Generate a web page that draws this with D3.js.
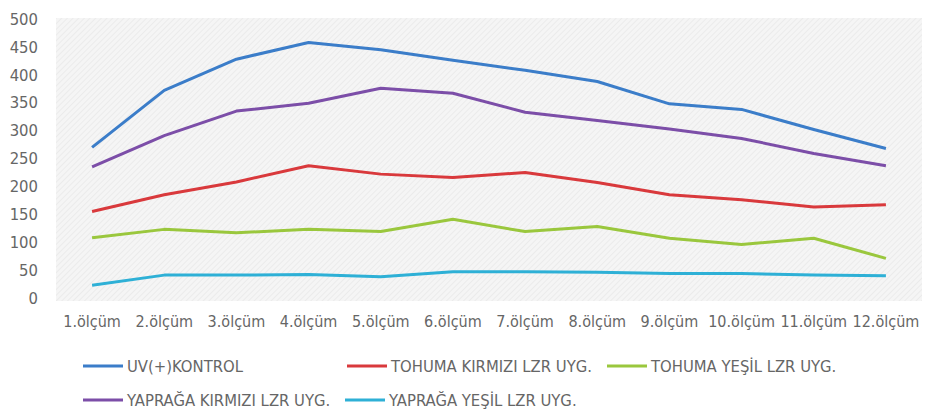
<!DOCTYPE html>
<html>
<head>
<meta charset="utf-8">
<script src="https://cdn.jsdelivr.net/npm/d3@7"></script>
<style>
  html, body { margin: 0; padding: 0; background: #fff; }
  svg { display: block; }
  .tick text { fill: #666; }
</style>
</head>
<body>
<svg id="chart" width="937" height="410"></svg>
<script>
// Measurements 1..12
const categories = ["1.ölçüm","2.ölçüm","3.ölçüm","4.ölçüm","5.ölçüm","6.ölçüm",
                    "7.ölçüm","8.ölçüm","9.ölçüm","10.ölçüm","11.ölçüm","12.ölçüm"];

const uvKontrol       = [270, 372, 428, 458, 445, 426, 408, 388, 348, 338, 302, 268];
const tohumaKirmizi   = [155, 185, 208, 237, 222, 216, 225, 207, 185, 176, 163, 167];
const tohumaYesil     = [108, 123, 117, 123, 119, 141, 119, 128, 107, 96, 107, 71];
const yapragaKirmizi  = [235, 291, 335, 349, 376, 367, 333, 318, 303, 286, 259, 237];
const yapragaYesil    = [23, 41, 41, 42, 38, 47, 47, 46, 44, 44, 41, 40];

const seriesNames = ["UV(+)KONTROL", "TOHUMA KIRMIZI LZR UYG.", "TOHUMA YEŞİL LZR UYG.",
                     "YAPRAĞA KIRMIZI LZR UYG.", "YAPRAĞA YEŞİL LZR UYG."];
const yTicks = [0, 50, 100, 150, 200, 250, 300, 350, 400, 450, 500];

const series = [
  { name: seriesNames[0], values: uvKontrol,      color: "#3b7dc9" },
  { name: seriesNames[1], values: tohumaKirmizi,  color: "#d9393c" },
  { name: seriesNames[2], values: tohumaYesil,    color: "#9ac73d" },
  { name: seriesNames[3], values: yapragaKirmizi, color: "#7c4ea8" },
  { name: seriesNames[4], values: yapragaYesil,   color: "#2eb0d6" }
];

const svg = d3.select("#chart");
const font = "'Liberation Sans Narrow', 'DejaVu Sans Condensed', 'Open Sans', sans-serif";

const plot = { left: 56, right: 922, top: 18, bottom: 301 };

const x = d3.scaleBand().domain(categories).range([plot.left, plot.right]);
const y = d3.scaleLinear().domain([0, 500]).range([298, 19]);

// hatched plot background
const defs = svg.append("defs");
const pat = defs.append("pattern")
  .attr("id", "hatch").attr("width", 4).attr("height", 4)
  .attr("patternUnits", "userSpaceOnUse")
  .attr("patternTransform", "rotate(45)");
pat.append("rect").attr("width", 4).attr("height", 4).attr("fill", "#f5f5f5");
pat.append("line").attr("x1", 0).attr("y1", 0).attr("x2", 0).attr("y2", 4)
  .attr("stroke", "#e8e8e8").attr("stroke-width", 1.5);

svg.append("rect")
  .attr("x", plot.left).attr("y", plot.top)
  .attr("width", plot.right - plot.left).attr("height", plot.bottom - plot.top)
  .attr("fill", "url(#hatch)");

// y axis
const yAxis = svg.append("g")
  .attr("transform", "translate(38,0)")
  .call(d3.axisLeft(y).tickValues(yTicks).tickSize(0).tickPadding(0));
yAxis.select(".domain").remove();
yAxis.selectAll("text").attr("font-family", font).attr("font-size", 16.5);

// x axis
const xAxis = svg.append("g")
  .attr("transform", "translate(0,316)")
  .call(d3.axisBottom(x).tickSize(0).tickPadding(0));
xAxis.select(".domain").remove();
xAxis.selectAll("text").attr("font-family", font).attr("font-size", 16)
  .attr("dy", "0.71em");

// lines
const line = d3.line()
  .x((d, i) => x(categories[i]) + x.bandwidth() / 2)
  .y(d => y(d));

svg.append("g").selectAll("path")
  .data(series)
  .join("path")
  .attr("d", d => line(d.values))
  .attr("fill", "none")
  .attr("stroke", d => d.color)
  .attr("stroke-width", 3)
  .attr("stroke-linejoin", "round");

// legend: two rows
const legendPos = [
  { x: 83,  y: 366 },
  { x: 347, y: 366 },
  { x: 607, y: 366 },
  { x: 83,  y: 400 },
  { x: 345, y: 400 }
];
const lg = svg.append("g").selectAll("g")
  .data(series)
  .join("g")
  .attr("transform", (d, i) => `translate(${legendPos[i].x},${legendPos[i].y})`);
lg.append("line")
  .attr("x1", 0).attr("x2", 40).attr("y1", 0).attr("y2", 0)
  .attr("stroke", d => d.color).attr("stroke-width", 3);
lg.append("text")
  .attr("x", 44).attr("y", 0).attr("dy", "0.36em")
  .attr("font-family", font).attr("font-size", 16.5)
  .attr("fill", "#666")
  .text(d => d.name);
</script>
</body>
</html>
